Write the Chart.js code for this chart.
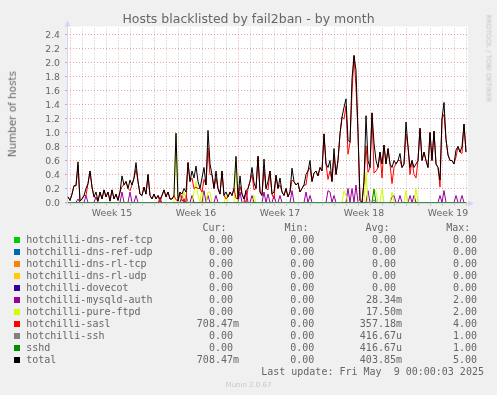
<!DOCTYPE html>
<html><head><meta charset="utf-8">
<script src="https://cdn.jsdelivr.net/npm/chart.js@4.4.1/dist/chart.umd.min.js"></script>
<style>
html,body{margin:0;padding:0;background:#F0F0F0;}
#wrap{position:relative;width:497px;height:395px;overflow:hidden;background:#F0F0F0;}
#c{position:absolute;left:0;top:0;}
.t{position:absolute;white-space:pre;line-height:1;color:#666;font-family:'DejaVu Sans';}
.m{position:absolute;white-space:pre;line-height:1;color:#666;font-family:'DejaVu Sans Mono';font-size:10px;}
.sq{position:absolute;width:6px;height:6px;}
</style></head><body>
<div id="wrap">
<canvas id="c" width="497" height="395"></canvas>
<div class="t" style="left:0;width:497px;text-align:center;top:13.2px;font-size:12.5px;">Hosts blacklisted by fail2ban - by month</div>
<div class="t" style="left:-88.3px;width:200px;text-align:center;top:109px;font-size:10.4px;transform:rotate(-90deg);">Number of hosts</div>
<div class="t" style="left:428.3px;width:120px;text-align:center;top:55.1px;font-size:6.8px;color:#c4c4c4;transform:rotate(90deg);">RRDTOOL / TOBI OETIKER</div>
<div class="t" style="left:0;width:497px;text-align:center;top:381.6px;font-size:7px;color:#c8c8c8;">Munin 2.0.67</div>
<div id="legend"></div>
</div>
<script>
// ---- data (one sample every 4 hours, 200 samples over the month) ----
const START_HOUR = 2, STEP_HOURS = 4;
const weekLabels = ['Week 15', 'Week 16', 'Week 17', 'Week 18', 'Week 19'];

const total = [
  0.08,0.03,0.12,0.24,0.24,0.58,0.02,0.05,0.10,0.20,0.27,0.45,0.22,0.08,0.15,0.02,0.15,0.05,0.18,0.08,
  0.15,0.02,0.18,0.05,0.12,0.03,0.15,0.38,0.25,0.30,0.20,0.32,0.25,0.35,0.57,0.30,0.12,0.10,0.22,0.12,
  0.40,0.10,0.05,0.12,0.05,0.10,0.05,0.10,0.18,0.08,0.15,0.05,0.05,0.10,0.99,0.02,0.15,0.12,0.20,0.15,
  0.57,0.30,0.45,0.35,0.52,0.30,0.20,0.35,0.50,0.25,1.03,0.55,0.40,0.20,0.45,0.20,0.12,0.45,0.10,0.15,
  0.08,0.15,0.10,0.20,0.66,0.05,0.38,0.12,0.05,0.17,0.20,0.30,0.50,0.28,0.20,0.66,0.15,0.10,0.62,0.20,
  0.30,0.45,0.12,0.15,0.39,0.20,0.35,0.15,0.10,0.20,0.08,0.15,0.49,0.30,0.25,0.28,0.15,0.20,0.25,0.40,
  0.45,0.60,0.30,0.42,0.45,0.38,0.50,0.45,0.98,0.55,0.50,0.60,0.30,0.77,0.40,0.60,0.98,1.22,1.36,1.48,
  0.89,0.86,1.77,2.10,1.89,1.00,0.03,0.00,0.30,1.24,0.60,0.50,1.28,0.85,0.60,0.50,0.72,0.55,0.82,0.55,
  0.77,0.55,0.50,0.60,0.55,0.60,0.70,0.50,0.55,1.15,0.80,0.50,0.60,0.50,0.55,0.60,1.06,0.60,0.72,0.60,
  0.50,1.00,0.60,1.02,0.55,0.50,0.32,1.20,1.43,0.90,0.68,0.60,0.60,0.55,0.75,0.80,0.72,0.80,1.12,0.72
];
const sasl = [
  0.08,0.03,0.12,0.24,0.24,0.53,0.02,0.05,0.10,0.10,0.27,0.45,0.22,0.08,0.07,0.02,0.15,0.05,0.18,0.08,
  0.15,0.02,0.18,0.05,0.12,0.03,0.15,0.23,0.25,0.30,0.20,0.17,0.25,0.35,0.47,0.30,0.12,0.10,0.22,0.12,
  0.40,0.10,0.05,0.12,0.05,0.10,0.00,0.10,0.18,0.08,0.15,0.05,0.05,0.10,0.04,0.02,0.15,0.02,0.05,0.00,
  0.57,0.30,0.35,0.20,0.22,0.20,0.20,0.15,0.33,0.25,0.78,0.40,0.40,0.20,0.35,0.20,0.12,0.45,0.10,0.05,
  0.08,0.15,0.10,0.20,0.06,0.05,0.23,0.12,0.05,0.00,0.20,0.30,0.40,0.18,0.20,0.66,0.15,0.10,0.47,0.20,
  0.18,0.45,0.12,0.05,0.39,0.20,0.25,0.15,0.10,0.20,0.08,0.15,0.32,0.30,0.25,0.28,0.15,0.20,0.25,0.25,
  0.45,0.50,0.30,0.42,0.45,0.38,0.50,0.45,0.98,0.55,0.33,0.45,0.30,0.67,0.40,0.60,0.98,1.22,1.19,1.38,
  0.69,0.86,1.57,2.10,1.64,1.00,0.03,0.00,0.30,0.81,0.43,0.50,1.28,0.42,0.45,0.50,0.72,0.35,0.82,0.55,
  0.77,0.55,0.27,0.50,0.55,0.60,0.60,0.50,0.55,0.98,0.80,0.40,0.60,0.40,0.35,0.60,1.06,0.60,0.72,0.60,
  0.50,1.00,0.60,1.02,0.55,0.50,0.22,1.20,1.26,0.90,0.68,0.60,0.60,0.55,0.65,0.80,0.72,0.70,1.12,0.72
];
const mysqldAuth = [
  0,0,0,0,0,0.05,0,0,0,0.1,0,0,0,0,0.08,0,0,0,0,0,
  0,0,0,0,0,0,0,0.15,0,0,0,0.15,0,0,0.1,0,0,0,0,0,
  0,0,0,0,0,0,0.05,0,0,0,0,0,0,0,0,0,0,0.1,0,0.1,
  0,0,0.1,0,0,0,0,0,0.17,0,0.1,0,0,0,0.1,0,0,0,0,0,
  0,0,0,0,0,0,0.15,0,0,0.17,0,0,0.1,0,0,0,0,0,0.15,0,
  0.12,0,0,0.1,0,0,0.1,0,0,0,0,0,0.17,0,0,0,0,0,0,0.15,
  0,0.1,0,0,0,0,0,0,0,0,0.17,0.15,0,0.1,0,0,0,0,0,0,
  0.2,0,0.2,0,0.25,0,0,0,0,0,0.17,0,0,0,0,0,0,0,0,0,
  0,0,0.08,0.1,0,0,0.1,0,0,0,0,0.1,0,0.1,0,0,0,0,0,0,
  0,0,0,0,0,0,0.1,0,0.17,0,0,0,0,0,0.1,0,0,0.1,0,0
];
const pureFtpd = [
  0,0,0,0,0,0,0,0,0,0,0,0,0,0,0,0,0,0,0,0,
  0,0,0,0,0,0,0,0,0,0,0,0,0,0,0,0,0,0,0,0,
  0,0,0,0,0,0,0,0,0,0,0,0,0,0,0.95,0,0,0,0.15,0.05,
  0,0,0,0.15,0.3,0.1,0,0.2,0,0,0.15,0.15,0,0,0,0,0,0,0,0.1,
  0,0,0,0,0.6,0,0,0,0,0,0,0,0,0.1,0,0,0,0,0,0,
  0,0,0,0,0,0,0,0,0,0,0,0,0,0,0,0,0,0,0,0,
  0,0,0,0,0,0,0,0,0,0,0,0,0,0,0,0,0,0,0.17,0.1,
  0,0,0,0,0,0,0,0,0,0.43,0,0,0,0.2,0.15,0,0,0.2,0,0,
  0,0,0.15,0,0,0,0,0,0,0.17,0,0,0,0,0.2,0,0,0,0,0,
  0,0,0,0,0,0,0,0,0,0,0,0,0,0,0,0,0,0,0,0
];
const ssh = [
  0,0,0,0,0,0,0,0,0,0,0,0,0,0,0,0,0,0,0,0,
  0,0,0,0,0,0,0,0,0,0,0,0,0,0,0,0,0,0,0,0,
  0,0,0,0,0,0,0,0,0,0,0,0,0,0,0,0,0,0,0,0,
  0,0,0,0,0,0,0,0,0,0,0,0,0,0,0,0,0,0,0,0,
  0,0,0,0,0,0,0,0,0,0,0,0,0,0,0,0,0,0,0,0,
  0,0,0,0,0,0,0,0,0,0,0,0,0,0,0,0,0,0,0,0,
  0,0,0,0,0,0,0,0,0,0,0,0,0,0,0,0,0,0,0,0,
  0,0,0,0,0,0,0,0,0,0,0,0,0,0.04,0,0,0,0,0,0,
  0,0,0,0,0,0,0,0,0,0,0,0,0,0,0,0,0,0,0,0,
  0,0,0,0,0,0,0,0,0,0,0,0,0,0,0,0,0,0,0,0
];
const sshd = [
  0,0,0,0,0,0,0,0,0,0,0,0,0,0,0,0,0,0,0,0,
  0,0,0,0,0,0,0,0,0,0,0,0,0,0,0,0,0,0,0,0,
  0,0,0,0,0,0,0,0,0,0,0,0,0,0,0,0,0,0,0,0,
  0,0,0,0,0,0,0,0,0,0,0,0,0,0,0,0,0,0,0,0,
  0,0,0,0,0,0,0,0,0,0,0,0,0,0,0,0,0,0,0,0,
  0,0,0,0,0,0,0,0,0,0,0,0,0,0,0,0,0,0,0,0,
  0,0,0,0,0,0,0,0,0,0,0,0,0,0,0,0,0,0,0,0,
  0,0,0,0,0,0,0,0,0,0,0,0,0,0.19,0,0,0,0,0,0,
  0,0,0,0,0,0,0,0,0,0,0,0,0,0,0,0,0,0,0,0,
  0,0,0,0,0,0,0,0,0,0,0,0,0,0,0,0,0,0,0,0
];
// series whose legend reads 0.00 everywhere
const zeroSeries = new Array(total.length).fill(0);

const seriesNames = ['hotchilli-dns-ref-tcp','hotchilli-dns-ref-udp','hotchilli-dns-rl-tcp','hotchilli-dns-rl-udp',
  'hotchilli-dovecot','hotchilli-mysqld-auth','hotchilli-pure-ftpd','hotchilli-sasl','hotchilli-ssh','sshd','total'];
const seriesColors = ['#00CC00','#0066B3','#FF8000','#FFCC00','#330099','#990099','#CCFF00','#FF0000','#808080','#008F00','#000000'];
const seriesData = [zeroSeries, zeroSeries, zeroSeries, zeroSeries, zeroSeries, mysqldAuth, pureFtpd, sasl, ssh, sshd, total];
const curVals = ['0.00','0.00','0.00','0.00','0.00','0.00','0.00','708.47m','0.00','0.00','708.47m'];
const minVals = ['0.00','0.00','0.00','0.00','0.00','0.00','0.00','0.00','0.00','0.00','0.00'];
const avgVals = ['0.00','0.00','0.00','0.00','0.00','28.34m','17.50m','357.18m','416.67u','416.67u','403.85m'];
const maxVals = ['0.00','0.00','0.00','0.00','0.00','2.00','2.00','4.00','1.00','1.00','5.00'];
const columnHeads = ['Cur:','Min:','Avg:','Max:'];
const lastUpdate = 'Last update: Fri May  9 00:00:03 2025';

// ---- legend (html text) ----
const legend = document.getElementById('legend');
function addText(cls, txt, style) {
  const d = document.createElement('div'); d.className = cls; d.textContent = txt;
  Object.assign(d.style, style); legend.appendChild(d); return d;
}
const ROW0 = 223.2, ROWH = 12;
const headLeft = [202.5, 284.5, 365.5, 446.2];
const colRight = [239, 320.3, 402, 483];
columnHeads.forEach((h, k) => addText('m', h, {left: headLeft[k] + 'px', top: ROW0 + 'px'}));
const fmt = v => /[a-z]$/.test(v) ? v : v + ' ';
seriesNames.forEach((name, r) => {
  const top = ROW0 + ROWH * (r + 1);
  const sq = document.createElement('div'); sq.className = 'sq';
  Object.assign(sq.style, {left: '14px', top: (top + 1.8) + 'px', background: seriesColors[r]});
  legend.appendChild(sq);
  addText('m', name, {left: '26.2px', top: top + 'px'});
  [curVals, minVals, avgVals, maxVals].forEach((col, k) =>
    addText('m', fmt(col[r]), {right: (497 - colRight[k]) + 'px', top: top + 'px'}));
});
addText('m', lastUpdate, {left: '261.2px', top: (ROW0 + ROWH * 12) + 'px'});

// ---- chart ----
const hours = total.map((_, i) => START_HOUR + i * STEP_HOURS);
const toPts = arr => arr.map((v, i) => ({x: hours[i], y: v}));
const datasets = seriesNames.map((name, k) => ({
  label: name,
  data: toPts(seriesData[k]),
  borderColor: seriesColors[k],
  backgroundColor: seriesColors[k],
  borderWidth: 1, pointRadius: 0, tension: 0, fill: false,
  order: seriesNames.length - 1 - k
}));

const MINOR = 'rgba(150,150,150,0.55)', MAJOR = 'rgba(225,90,90,0.55)', NONE = 'rgba(0,0,0,0)';
const FIRST_WEEK_HOUR = 6, DAY = 24, HALF_DAY = 12;

const frame = {
  id: 'frame',
  beforeDraw(chart) {
    const {ctx, chartArea: a} = chart;
    ctx.save(); ctx.fillStyle = '#FFFFFF';
    ctx.fillRect(a.left, a.top - 2, a.right - a.left + 1, a.bottom - a.top + 2);
    ctx.restore();
  },
  beforeDatasetsDraw(chart) {
    const {ctx, chartArea: a} = chart;
    const x0 = Math.round(a.left) + 0.5, y0 = Math.round(a.bottom) + 0.5;
    ctx.save();
    ctx.strokeStyle = '#CFD6F8'; ctx.fillStyle = '#CFD6F8'; ctx.lineWidth = 1;
    ctx.beginPath();
    ctx.moveTo(x0, y0 + 2); ctx.lineTo(x0, a.top - 3);
    ctx.moveTo(x0 - 2, y0); ctx.lineTo(a.right + 3, y0);
    ctx.stroke();
    ctx.beginPath(); ctx.moveTo(x0, a.top - 8); ctx.lineTo(x0 - 3, a.top - 2); ctx.lineTo(x0 + 3, a.top - 2); ctx.closePath(); ctx.fill();
    ctx.beginPath(); ctx.moveTo(a.right + 7, y0); ctx.lineTo(a.right + 1, y0 - 3); ctx.lineTo(a.right + 1, y0 + 3); ctx.closePath(); ctx.fill();
    ctx.restore();
  }
};

new Chart(document.getElementById('c'), {
  type: 'line',
  data: {datasets},
  plugins: [frame],
  options: {
    responsive: false, animation: false, devicePixelRatio: 1,
    layout: {padding: {left: 0, right: 30, top: 28.5, bottom: 0}},
    plugins: {legend: {display: false}, tooltip: {enabled: false}, title: {display: false}},
    elements: {point: {radius: 0}, line: {borderWidth: 1, tension: 0}},
    scales: {
      x: {
        type: 'linear', min: 0, max: 800,
        afterFit: s => { s.height = 192.5; },
        afterBuildTicks: s => {
          const t = [];
          for (let h = FIRST_WEEK_HOUR; h <= 800; h += HALF_DAY) t.push({value: h});
          s.ticks = t;
        },
        border: {display: false, dash: [1, 2]},
        grid: {
          lineWidth: 1, tickLength: 3,
          color: c => { const j = Math.round((c.tick.value - FIRST_WEEK_HOUR) / HALF_DAY);
            return j % 2 ? NONE : (j % 14 === 0 ? MAJOR : MINOR); },
          tickColor: c => { const j = Math.round((c.tick.value - FIRST_WEEK_HOUR) / HALF_DAY);
            return j % 2 ? NONE : MINOR; }
        },
        ticks: {
          autoSkip: false, maxRotation: 0, padding: 3, color: '#666',
          font: {family: 'DejaVu Sans', size: 9.3},
          callback: v => { const j = Math.round((v - FIRST_WEEK_HOUR) / HALF_DAY);
            return j % 14 === 7 ? (weekLabels[(j - 7) / 14] || '') : ''; }
        }
      },
      y: {
        min: 0, max: 2.4857,
        afterFit: s => { s.width = 67; },
        afterBuildTicks: s => {
          const t = []; for (let k = 0; k <= 24; k++) t.push({value: k / 10}); s.ticks = t;
        },
        border: {display: false, dash: [1, 2]},
        grid: {
          lineWidth: 1, tickLength: 2,
          color: c => Math.round(c.tick.value * 10) % 2 ? MINOR : MAJOR,
          tickColor: c => Math.round(c.tick.value * 10) % 2 ? MINOR : MAJOR
        },
        ticks: {
          padding: 5, color: '#666', labelOffset: 1,
          font: {family: 'DejaVu Sans', size: 9.3},
          callback: v => Math.round(v * 10) % 2 ? '' : (Math.round(v * 10) / 10).toFixed(1)
        }
      }
    }
  }
});
</script>
</body></html>
